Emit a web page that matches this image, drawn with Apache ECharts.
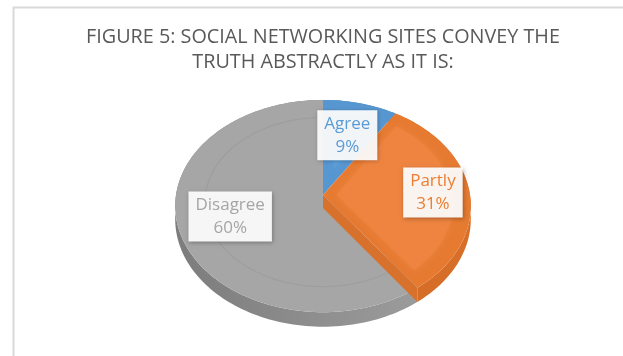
<!DOCTYPE html>
<html>
<head>
<meta charset="utf-8">
<script src="https://cdn.jsdelivr.net/npm/echarts@6/dist/echarts.min.js"></script>
<style>
  html, body { margin: 0; padding: 0; background: #ffffff; }
  #chart { width: 623px; height: 356px; }
</style>
</head>
<body>
<div id="chart"></div>
<script>
// ---- data ----
const categories = ['Agree', 'Partly', 'Disagree'];
const values = [9, 31, 60];
const titleText = 'FIGURE 5: SOCIAL NETWORKING SITES CONVEY THE\nTRUTH ABSTRACTLY AS IT IS:';

// ---- styling ----
const topColors   = ['#5797d1', '#e67a31', '#a6a6a6'];
const innerColors = ['#5e9fd8', '#ee8440', null];
const sideStops = [
  ['#4a83b8', '#5a93c8'],
  ['#c9621f', '#d86f29'],
  ['#7c7c7c', '#a2a2a2']
];
const labelColors = ['#5b9bd5', '#ed7d31', '#a5a5a5'];
const labelRadius = [0.63, 0.75, 0.65];

// 3D disk projection: centre, half-axes, perspective factor, thickness
const geo = { cx: 323, cy: 195, A: 147, K: 105, p: 0.104, t: 13 };

function projUV(u, v, h) {
  const s = 1 / (1 - geo.p * v);
  return [geo.cx + geo.A * u * s, geo.cy + (geo.K * v + h) * s];
}
// angle measured clockwise from 12 o'clock, r relative radius, h drop below top face
function proj(r, phi, h) {
  return projUV(r * Math.sin(phi), -r * Math.cos(phi), h);
}
function arcPts(r, a0, a1, h) {
  const pts = [];
  const n = Math.max(2, Math.ceil(Math.abs(a1 - a0) / (Math.PI / 120)));
  for (let i = 0; i <= n; i++) {
    pts.push(proj(r, a0 + (a1 - a0) * i / n, h));
  }
  return pts;
}

const total = values.reduce((a, b) => a + b, 0);
const cumulative = [];
values.reduce((acc, v, i) => { cumulative[i] = acc; return acc + v; }, 0);

function renderSlice(params, api) {
  const i = params.dataIndex;
  const val = api.value(0);
  const a0 = cumulative[i] / total * Math.PI * 2;
  const a1 = a0 + val / total * Math.PI * 2;
  const t = geo.t;
  const children = [];

  // outer rim
  const rim = arcPts(1, a0, a1, 0).concat(arcPts(1, a1, a0, t));
  children.push({
    type: 'polygon', z2: 1,
    shape: { points: rim },
    style: {
      fill: { type: 'linear', x: 175, y: 0, x2: 470, y2: 0, global: true,
              colorStops: [{ offset: 0, color: sideStops[i][0] }, { offset: 1, color: sideStops[i][1] }] },
      stroke: null
    }
  });

  // top face
  const top = [proj(0, 0, 0)].concat(arcPts(1, a0, a1, 0));
  children.push({
    type: 'polygon', z2: 2,
    shape: { points: top },
    style: { fill: topColors[i], stroke: null }
  });

  // bevel highlight
  const span = a1 - a0;
  if (span < Math.PI && innerColors[i]) {
    const d = 0.075, ri = 0.88;
    const apexR = d / Math.sin(span / 2);
    const mid = (a0 + a1) / 2;
    const apex = [apexR * Math.sin(mid), -apexR * Math.cos(mid)];
    const k = Math.sqrt(ri * ri - d * d);
    const e0 = [Math.sin(a0), -Math.cos(a0)], n0 = [Math.cos(a0), Math.sin(a0)];
    const e1 = [Math.sin(a1), -Math.cos(a1)], n1 = [Math.cos(a1), Math.sin(a1)];
    const p0 = [k * e0[0] + d * n0[0], k * e0[1] + d * n0[1]];
    const p1 = [k * e1[0] - d * n1[0], k * e1[1] - d * n1[1]];
    const b0 = Math.atan2(p0[0], -p0[1]);
    let b1 = Math.atan2(p1[0], -p1[1]);
    while (b1 < b0) b1 += Math.PI * 2;
    const inner = [projUV(apex[0], apex[1], 0)].concat(arcPts(ri, b0, b1, 0));
    children.push({
      type: 'polygon', z2: 3,
      shape: { points: inner },
      style: { fill: innerColors[i], stroke: null, shadowBlur: 6, shadowColor: innerColors[i] }
    });
  } else {
    children.push({
      type: 'polyline', z2: 3,
      shape: { points: arcPts(0.8, a0 + 0.05, a1 - 0.05, 0) },
      style: { stroke: 'rgba(0,0,0,0.05)', lineWidth: 1.2, fill: null }
    });
  }

  // exposed radial wall on the forward-facing trailing edge
  if (a1 > Math.PI / 2 && a1 < Math.PI) {
    const wall = [proj(0, a1, 0), proj(1, a1, 0), proj(1, a1, t), proj(0, a1, t)];
    children.push({
      type: 'polygon', z2: 4,
      shape: { points: wall },
      style: { fill: '#d8712b', stroke: null }
    });
  }

  // data label
  const pos = proj(labelRadius[i], (a0 + a1) / 2, 0);
  children.push({
    type: 'text', z2: 10,
    x: pos[0], y: pos[1],
    style: {
      text: categories[i] + '\n' + Math.round(val / total * 100) + '%',
      fill: labelColors[i],
      font: '17px "Open Sans"',
      lineHeight: 23,
      align: 'center', verticalAlign: 'middle',
      backgroundColor: 'rgba(255,255,255,0.93)',
      padding: [2, 7, 2, 7],
      shadowBlur: 4, shadowColor: 'rgba(0,0,0,0.28)', shadowOffsetX: 1, shadowOffsetY: 1
    }
  });

  return { type: 'group', children: children };
}

const chart = echarts.init(document.getElementById('chart'), null, { renderer: 'canvas' });
chart.setOption({
  backgroundColor: '#ffffff',
  animation: false,
  title: {
    text: titleText,
    left: 323, top: 25, textAlign: 'center', padding: 0,
    textStyle: { fontFamily: 'Open Sans', fontSize: 19.8, fontWeight: 'normal', color: '#595959', lineHeight: 25 }
  },
  graphic: [{
    type: 'rect', left: 11, top: 5, silent: true,
    shape: { width: 640, height: 380 },
    style: { fill: null, stroke: '#d9d9d9', lineWidth: 2 }
  }],
  series: [{
    type: 'custom',
    coordinateSystem: 'none',
    renderItem: renderSlice,
    data: values.map((v, i) => ({ name: categories[i], value: v }))
  }]
});
</script>
</body>
</html>
